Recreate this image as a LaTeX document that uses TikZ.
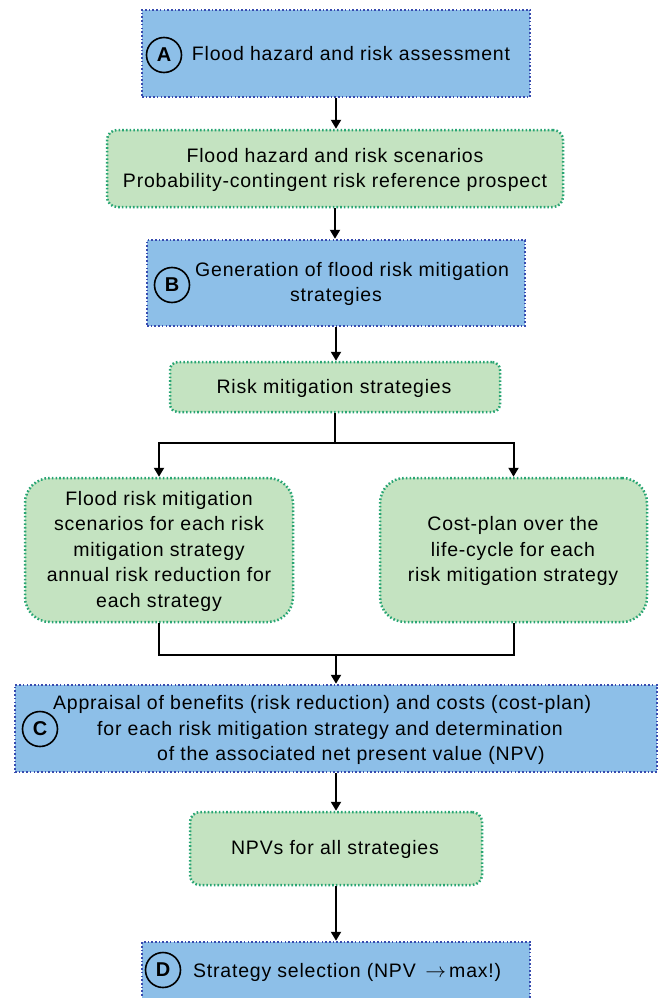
\documentclass[tikz,border=0pt]{standalone}
\usepackage{fontspec}
\usepackage{amsmath}
\usepackage{tikz}
\usetikzlibrary{arrows.meta}
\setmainfont{Liberation Sans}[LetterSpace=4]
\definecolor{bluefill}{RGB}{141,191,232}
\definecolor{blueline}{RGB}{55,75,175}
\definecolor{greenfill}{RGB}{196,227,193}
\definecolor{greenline}{RGB}{40,165,115}

\begin{document}
\begin{tikzpicture}[x=1pt,y=-1pt,
  dotline/.style={line width=2.5pt,dash pattern=on 1.6pt off 2.1pt},
  bluebox/.style={draw=blueline,fill=bluefill,dotline,rectangle},
  greenbox/.style={draw=greenline,fill=greenfill,dotline,rectangle,rounded corners=#1},
  greenbox/.default=10pt,
  tag/.style={draw,circle,line width=1.6pt,minimum size=35pt,inner sep=0pt,font=\fontsize{20}{20}\selectfont\bfseries},
  txt/.style={font=\fontsize{19.5}{25.5}\selectfont,align=center,inner sep=0pt},
  link/.style={line width=2pt},
  arr/.style={link,-{Triangle[length=9pt,width=10pt]}}]
  \useasboundingbox (0,0) rectangle (659,998);
  % boxes
  \node[bluebox,minimum width=388pt,minimum height=87pt] (assess) at (336,53.5) {};
  \node[greenbox,minimum width=456pt,minimum height=77pt] (scen) at (335,168.5) {};
  \node[bluebox,minimum width=378pt,minimum height=86pt] (gen) at (336,283) {};
  \node[greenbox=8pt,minimum width=330pt,minimum height=50pt] (strat) at (335,387) {};
  \node[greenbox=25pt,minimum width=268pt,minimum height=144pt] (benefit) at (159,550) {};
  \node[greenbox=25pt,minimum width=267pt,minimum height=144pt] (cost) at (513.5,550) {};
  \node[bluebox,minimum width=642pt,minimum height=87pt] (apprC) at (336,728.5) {};
  \node[greenbox,minimum width=292pt,minimum height=73pt] (npvs) at (336,848.5) {};
  \node[bluebox,minimum width=388pt,minimum height=60pt] (select) at (336,972) {};
  % tags
  \node[tag] (tagA) at (164,55) {A}; \node[tag] (tagB) at (172,285) {B};
  \node[tag] (tagC) at (40,729) {C}; \node[tag] (tagD) at (163,970) {D};
  % texts
  \node[txt] (txtA) at (351,54) {Flood hazard and risk assessment};
  \node[txt] (txtS) at (335,170) {Flood hazard and risk scenarios\\Probability-contingent risk reference prospect};
  \node[txt,anchor=west,align=left] (txtB) at (195,284) {Generation of flood risk mitigation\\\hspace*{95pt}strategies};
  \node[txt] (txtR) at (334,388) {Risk mitigation strategies};
  \node[txt] (txtL) at (159,551) {Flood risk mitigation\\scenarios for each risk\\mitigation strategy\\annual risk reduction for\\each strategy};
  \node[txt] (txtK) at (513,551) {Cost-plan over the\\life-cycle for each\\risk mitigation strategy};
  \node[txt,anchor=west,align=left] (txtC) at (53,730) {Appraisal of benefits (risk reduction) and costs (cost-plan)\\\hspace*{44pt}for each risk mitigation strategy and determination\\\hspace*{104pt}of the associated net present value (NPV)};
  \node[txt] (txtN) at (335,849) {NPVs for all strategies};
  \node[txt,anchor=west] (txtD) at (193,972) {Strategy selection (NPV \,$\rightarrow$\,max!)};
  % connectors
  \coordinate (split) at (335,443); \coordinate (join) at (336,655);
  \draw[arr] (assess.south) -- (assess.south |- scen.north);
  \draw[arr] (scen.south) -- (scen.south |- gen.north);
  \draw[arr] (gen.south) -- (gen.south |- strat.north);
  \draw[link] (strat.south) -- (split);
  \draw[arr] (split) -| (benefit.north); \draw[arr] (split) -| (cost.north);
  \draw[link] (benefit.south) |- (join) -| (cost.south);
  \draw[arr] (join) -- (join |- apprC.north);
  \draw[arr] (apprC.south) -- (apprC.south |- npvs.north);
  \draw[arr] (npvs.south) -- (npvs.south |- select.north);
\end{tikzpicture}
\end{document}
